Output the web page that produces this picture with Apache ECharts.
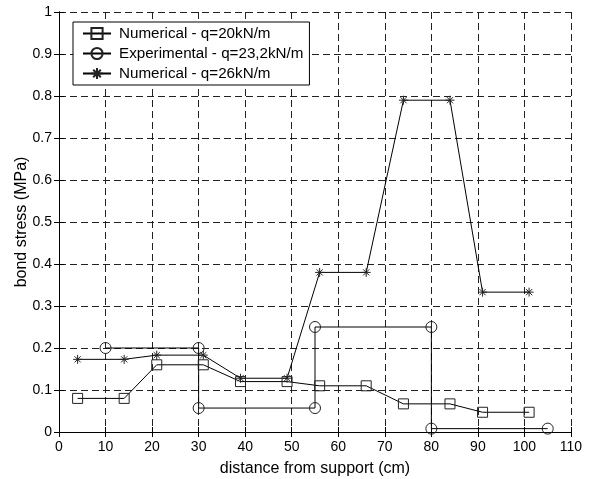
<!DOCTYPE html>
<html>
<head>
<meta charset="utf-8">
<script src="https://cdn.jsdelivr.net/npm/echarts@6/dist/echarts.min.js"></script>
<style>
  html, body { margin: 0; padding: 0; background: #fff; }
  #chart { width: 595px; height: 479px; }
</style>
</head>
<body>
<div id="chart"></div>
<script>
// Distances from the support (cm) and bond stress values (MPa)
const distNum20 = [4, 14, 21, 31, 39, 49, 56, 66, 74, 84, 91, 101];
const stressNum20 = [0.08, 0.08, 0.16, 0.16, 0.12, 0.12, 0.11, 0.11, 0.067, 0.067, 0.047, 0.047];

const distExp = [10, 30, 30, 55, 55, 80, 80, 105];
const stressExp = [0.2, 0.2, 0.057, 0.057, 0.25, 0.25, 0.008, 0.008];

const distNum26 = [4, 14, 21, 31, 39, 49, 56, 66, 74, 84, 91, 101];
const stressNum26 = [0.173, 0.173, 0.183, 0.183, 0.128, 0.128, 0.38, 0.38, 0.79, 0.79, 0.333, 0.333];

const seriesNames = ['Numerical - q=20kN/m', 'Experimental - q=23,2kN/m', 'Numerical - q=26kN/m'];
const xTitle = 'distance from support (cm)';
const yTitle = 'bond stress (MPa)';

const FONT = 'Liberation Sans, Arial, Helvetica, sans-serif';
const pairs = (xs, ys) => xs.map((x, i) => [x, ys[i]]);

// asterisk marker: vertical, horizontal and two diagonal strokes
const asterisk = 'path://M5 0 L5 10 M0 5 L10 5 M1.6 1.6 L8.4 8.4 M1.6 8.4 L8.4 1.6';

const markerStyle = { color: 'rgba(0,0,0,0)', borderColor: '#222', borderWidth: 1 };
const lineStyle = { color: '#000', width: 1 };

const gridLine = { show: true, lineStyle: { color: '#222', type: [7, 4], width: 1 } };
const tickIn = { show: true, inside: true, length: 5, lineStyle: { color: '#000' } };
const axisLn = { show: true, lineStyle: { color: '#000', width: 1 } };
const labelStyle = { color: '#000', fontSize: 14, fontFamily: FONT };
const titleStyle = { color: '#000', fontSize: 16, fontFamily: FONT };

const chart = echarts.init(document.getElementById('chart'), null, { renderer: 'canvas' });
chart.setOption({
  animation: false,
  backgroundColor: '#fff',
  grid: { left: 59, top: 12, width: 512, height: 420, show: false, outerBoundsMode: 'none', containLabel: false },
  legend: {
    orient: 'vertical',
    left: 73, top: 22,
    padding: [4, 6, 4, 9],
    itemGap: 5,
    itemWidth: 28, itemHeight: 14,
    backgroundColor: '#fff',
    borderColor: '#000', borderWidth: 1,
    textStyle: { color: '#000', fontSize: 15.2, fontFamily: FONT, padding: [0, 0, 0, 3] },
    data: seriesNames
  },
  xAxis: [
    {
      type: 'value', min: 0, max: 110, interval: 10, position: 'bottom',
      name: xTitle, nameLocation: 'middle', nameGap: 29, nameMoveOverlap: false,
      nameTextStyle: titleStyle,
      axisLine: axisLn, axisTick: tickIn, splitLine: gridLine,
      axisLabel: Object.assign({ margin: 8 }, labelStyle)
    },
    {
      type: 'value', min: 0, max: 110, interval: 10, position: 'top',
      axisLine: axisLn, axisTick: tickIn, splitLine: { show: false },
      axisLabel: { show: false }
    }
  ],
  yAxis: [
    {
      type: 'value', min: 0, max: 1, interval: 0.1, position: 'left',
      name: yTitle, nameLocation: 'middle', nameGap: 29, nameMoveOverlap: false,
      nameTextStyle: titleStyle,
      axisLine: axisLn, axisTick: tickIn, splitLine: gridLine,
      axisLabel: Object.assign({ margin: 7, formatter: v => String(Math.round(v * 10) / 10) }, labelStyle)
    },
    {
      type: 'value', min: 0, max: 1, interval: 0.1, position: 'right',
      axisLine: axisLn, axisTick: tickIn, splitLine: { show: false },
      axisLabel: { show: false }
    }
  ],
  series: [
    {
      name: seriesNames[0], type: 'line', data: pairs(distNum20, stressNum20),
      symbol: 'rect', symbolSize: 10, showAllSymbol: true,
      itemStyle: markerStyle, lineStyle: lineStyle
    },
    {
      name: seriesNames[1], type: 'line', data: pairs(distExp, stressExp),
      symbol: 'circle', symbolSize: 11, showAllSymbol: true,
      itemStyle: markerStyle, lineStyle: lineStyle
    },
    {
      name: seriesNames[2], type: 'line', data: pairs(distNum26, stressNum26),
      symbol: asterisk, symbolSize: 9, showAllSymbol: true,
      itemStyle: markerStyle, lineStyle: lineStyle
    }
  ]
});
</script>
</body>
</html>
